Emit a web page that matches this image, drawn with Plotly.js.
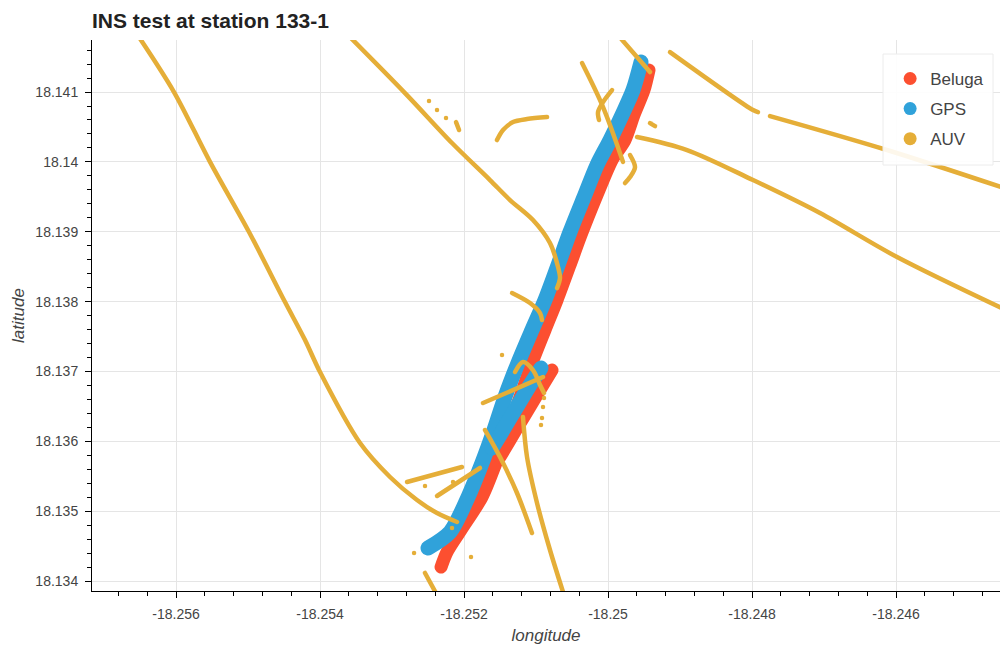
<!DOCTYPE html>
<html>
<head>
<meta charset="utf-8">
<script src="https://cdn.plot.ly/plotly-3.0.1.min.js"></script>
<style>
html,body{margin:0;padding:0;background:#fff;}
#chart{width:1000px;height:645px;}
.scatterlayer path.js-line{stroke-linecap:round;stroke-linejoin:round;}
</style>
</head>
<body>
<div id="chart"></div>
<script>
// ---- Data (longitude / latitude) ----
const seriesNames = ["Beluga", "GPS", "AUV"];

// Beluga track (main pass, then return pass separated by null)
const belugaLon = [-18.252319,-18.252236,-18.252042,-18.25175,-18.251556,-18.251389,-18.251222,-18.251056,-18.250875,-18.250708,-18.250528,-18.250375,-18.250153,-18.249944,-18.249764,-18.249639,-18.2495,-18.249431,
  null,-18.250778,-18.250944,-18.251153,-18.251361,-18.2515];
const belugaLat = [18.1342,18.134415,18.13473,18.135202,18.135689,18.136161,18.136634,18.137121,18.137593,18.138022,18.138523,18.138953,18.139525,18.140026,18.140313,18.140671,18.141028,18.141315,
  null,18.13702,18.136734,18.136376,18.136018,18.135775];

// GPS track
const gpsLon = [-18.2525,-18.252194,-18.251944,-18.25175,-18.251583,-18.251431,-18.25125,-18.251056,-18.250875,-18.250694,-18.250528,-18.250333,-18.250153,-18.249972,-18.249806,-18.249653,-18.249542,
  null,-18.250931,-18.251083,-18.251292,-18.2515,-18.251611];
const gpsLat = [18.134472,18.134701,18.135202,18.135689,18.136161,18.136634,18.137121,18.137593,18.138022,18.138523,18.138996,18.139497,18.139955,18.140313,18.140671,18.141028,18.141429,
  null,18.137049,18.136806,18.136448,18.13609,18.135904];

// AUV track segments (null separates segments)
const auvLon = [
  -18.256542,-18.256028,-18.255528,-18.254986,-18.254486,-18.254208,-18.254,-18.253444,-18.253028,-18.252653,-18.252375,-18.252097, null,
  -18.253625,-18.252806,-18.252167,-18.251639,-18.251361,-18.251042,-18.250806,-18.250694,-18.250667,-18.250708, null,
  -18.251333,-18.251083,-18.250944,-18.250917, null,
  -18.249875,-18.249417, null,
  -18.250361,-18.250069,-18.249792, null,
  -18.249944,-18.250069,-18.250139,-18.250125, null,
  -18.249694,-18.249625,-18.249694,-18.249764, null,
  -18.249417,-18.249347, null,
  -18.249597,-18.248903,-18.247986,-18.247056,-18.245986,-18.244417, null,
  -18.249139,-18.247986,-18.247917, null,
  -18.24775,-18.246125,-18.244417, null,
  -18.251542,-18.251458,-18.251319,-18.251125,-18.250847, null,
  -18.252111,-18.252069, null,
  -18.252792,-18.252028, null,
  -18.252375,-18.251778, null,
  -18.251708,-18.2515,-18.251264,-18.251056, null,
  -18.251181,-18.251125,-18.250986,-18.250806,-18.250625, null,
  -18.251736,-18.250903, null,
  -18.251292,-18.251181,-18.251042,-18.250944,-18.250889, null,
  -18.252542,-18.252375
];
const auvLat = [
  18.14183,18.141,18.14,18.138996,18.137994,18.13745,18.136992,18.135975,18.135489,18.135159,18.134973,18.134845, null,
  18.14183,18.140971,18.14027,18.13974,18.139454,18.139168,18.138838,18.138495,18.138337,18.138194, null,
  18.138123,18.137979,18.137836,18.137736, null,
  18.14183,18.141286, null,
  18.141415,18.140785,18.14, null,
  18.141028,18.140857,18.140713,18.140599, null,
  18.140098,18.139926,18.139783,18.139697, null,
  18.140556,18.140513, null,
  18.140356,18.14017,18.13974,18.139268,18.138638,18.137851, null,
  18.141572,18.140742,18.140713, null,
  18.140656,18.14017,18.139597, null,
  18.140313,18.140456,18.14057,18.140613,18.140642, null,
  18.14057,18.140456, null,
  18.135417,18.135632, null,
  18.135217,18.135618, null,
  18.136161,18.135775,18.13526,18.134687, null,
  18.136348,18.135775,18.135117,18.134444,18.133843, null,
  18.136548,18.13692, null,
  18.136992,18.137135,18.13702,18.136806,18.136691, null,
  18.134115,18.1338
];

// Isolated AUV fixes
const auvDotLon = [-18.252486,-18.252375,-18.25225,-18.252542,-18.252153,-18.252167,-18.252694,-18.251903,-18.251472,-18.250889,-18.250903,-18.250917,-18.250931];
const auvDotLat = [18.140871,18.140742,18.140628,18.13536,18.135417,18.134759,18.134401,18.134344,18.137235,18.13662,18.136491,18.136333,18.136233];

const xTicks = [-18.256,-18.254,-18.252,-18.25,-18.248,-18.246];
const xTickText = ["-18.256","-18.254","-18.252","-18.25","-18.248","-18.246"];
const yTicks = [18.134,18.135,18.136,18.137,18.138,18.139,18.14,18.141];
const yTickText = ["18.134","18.135","18.136","18.137","18.138","18.139","18.14","18.141"];

// ---- Styles ----
const colors = {Beluga:"#fc4f30", GPS:"#30a2da", AUV:"#e5ae38"};
const FONT = "Liberation Sans, Arial, Helvetica, sans-serif";

const traces = [
  {x: belugaLon, y: belugaLat, type:"scatter", mode:"lines", connectgaps:false,
   line:{color:colors.Beluga, width:13, shape:"spline", smoothing:0.8}, showlegend:false, hoverinfo:"skip"},
  {x: gpsLon, y: gpsLat, type:"scatter", mode:"lines", connectgaps:false,
   line:{color:colors.GPS, width:15, shape:"spline", smoothing:0.8}, showlegend:false, hoverinfo:"skip"},
  {x: auvLon, y: auvLat, type:"scatter", mode:"lines", connectgaps:false,
   line:{color:colors.AUV, width:4.5, shape:"spline", smoothing:0.9}, showlegend:false, hoverinfo:"skip"},
  {x: auvDotLon, y: auvDotLat, type:"scatter", mode:"markers",
   marker:{color:colors.AUV, size:4.5}, showlegend:false, hoverinfo:"skip"}
];
seriesNames.forEach((n, i) => {
  traces.push({x:[null], y:[null], type:"scatter", mode:"markers", name:n,
    legendgroup:"g"+i, marker:{color:colors[n], size:13}, showlegend:true});
});

const layout = {
  width:1000, height:645,
  margin:{l:92, r:0, t:40, b:54, pad:0},
  paper_bgcolor:"#fff", plot_bgcolor:"#fff",
  font:{family:FONT, color:"#444", size:14},
  title:{text:"<b>INS test at station 133-1</b>", x:92/1000, xref:"container", xanchor:"left",
    y:1-21/645, yref:"container", yanchor:"middle",
    font:{family:FONT, size:21, color:"#222"}},
  showlegend:true,
  legend:{x:0.879, xanchor:"left", y:0.962, yanchor:"top", bgcolor:"rgba(0,0,0,0)",
    borderwidth:0, font:{family:FONT, size:17, color:"#444"}, traceorder:"grouped", tracegroupgap:5},
  shapes:[{type:"rect", xref:"paper", yref:"paper", x0:(883-92)/908, x1:(993-92)/908,
    y0:(591-165)/551, y1:(591-54)/551, line:{color:"#ececec", width:1},
    fillcolor:"rgba(255,255,255,0.9)", layer:"above"}],
  xaxis:{range:[-18.2571667,-18.244556], tickvals:xTicks, ticktext:xTickText, showgrid:true, gridcolor:"#e5e5e5", gridwidth:1,
    zeroline:false, showline:true, linecolor:"#000", linewidth:1, ticks:"outside", ticklen:6, tickcolor:"#000",
    tickfont:{family:FONT, size:14, color:"#444"}, ticklabelstandoff:4,
    minor:{dtick:0.0004, tick0:-18.256, ticks:"outside", ticklen:4, tickcolor:"#000", showgrid:false},
    title:{text:"<i>longitude</i>", font:{family:FONT, size:17, color:"#444"}, standoff:10},
    automargin:false, fixedrange:true},
  yaxis:{range:[18.133857,18.141745], tickvals:yTicks, ticktext:yTickText, showgrid:true, gridcolor:"#e5e5e5", gridwidth:1,
    zeroline:false, showline:true, linecolor:"#000", linewidth:1, ticks:"outside", ticklen:6, tickcolor:"#000",
    tickfont:{family:FONT, size:14, color:"#444"}, ticklabelstandoff:4,
    minor:{dtick:0.0002, tick0:18.134, ticks:"outside", ticklen:4, tickcolor:"#000", showgrid:false},
    title:{text:"<i>latitude</i>", font:{family:FONT, size:17, color:"#444"}, standoff:6},
    automargin:false, fixedrange:true}
};

Plotly.newPlot("chart", traces, layout, {displayModeBar:false, staticPlot:true});
</script>
</body>
</html>
